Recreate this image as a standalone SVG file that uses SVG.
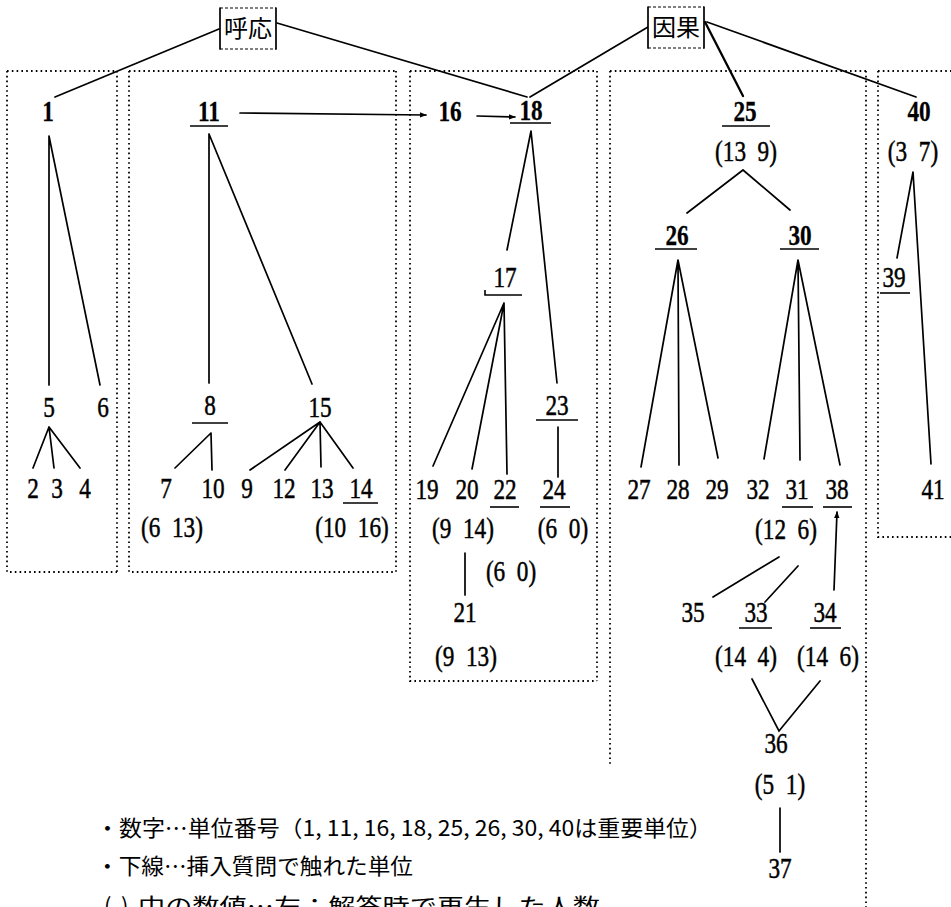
<svg xmlns="http://www.w3.org/2000/svg" width="951" height="907" viewBox="0 0 951 907">
<style>
.n{font-family:"Liberation Serif",serif;font-size:29px;text-anchor:middle;fill:#000;stroke:#000;stroke-width:0.5;transform-box:fill-box;transform-origin:center;transform:scaleX(0.8)}
.b{font-weight:bold;stroke-width:0.3}
.k{font-family:"Noto Sans CJK JP","Noto Sans CJK SC",sans-serif;font-size:24px;text-anchor:middle;fill:#000}
.lg{font-family:"Noto Sans CJK JP","Noto Sans CJK SC",sans-serif;font-size:22px;fill:#000}
.ln{stroke:#000;stroke-width:1.7;fill:none;stroke-linecap:round}
.ul{stroke:#000;stroke-width:1.6;fill:none}
.dot{stroke:#000;stroke-width:1.8;stroke-dasharray:1.6 3.2;fill:none}
.bx{fill:#fff;stroke:none}
.bxd{stroke:#000;stroke-width:1;stroke-dasharray:3 2;fill:none}
</style>
<defs>
<marker id="ah" viewBox="0 0 10 10" refX="9" refY="5" markerWidth="7" markerHeight="7" orient="auto-start-reverse" markerUnits="userSpaceOnUse">
<path d="M0,1 L10,5 L0,9 Z" fill="#000"/>
</marker>
</defs>
<rect width="951" height="907" fill="#fff"/>

<g id="frames">
<path class="dot" d="M7,71 H117 M7,71 V572 H117 M117,71 V572"/>
<path class="dot" d="M129,71 H396 M129,71 V572 H396 M396,71 V572"/>
<path class="dot" d="M410,71 H597 M410,71 V681 H597 M597,71 V681"/>
<path class="dot" d="M610,71 H866 M610,71 V765 M866,71 V907"/>
<path class="dot" d="M878,71 H951 M878,71 V537 H951"/>
</g>

<g id="connectors">
<path class="ln" d="M219,29 L55,97"/>
<path class="ln" d="M277,23 L527,97"/>
<path class="ln" d="M648,27 L530,97"/>
<path class="ln" d="M705,22 L743,96" style="stroke-width:2.3"/>
<path class="ln" d="M707,22 L916,97"/>
<path class="ln" d="M49,136 L49,385 M49,136 L100,385"/>
<path class="ln" d="M49,427 L33,468 M49,427 L54,468 M49,427 L80,468"/>
<path class="ln" d="M209,134 L209,383 M209,134 L312,384"/>
<path class="ln" d="M240,113 L426,115" marker-end="url(#ah)"/>
<path class="ln" d="M477,116 L515,117" marker-end="url(#ah)"/>
<path class="ln" d="M211,433 L175,468 M211,433 L212,470"/>
<path class="ln" d="M320,422 L250,470 M320,422 L285,470 M320,422 L321,467 M320,422 L353,468"/>
<path class="ln" d="M531,131 L507,250 M531,131 L557,383"/>
<path class="ln" d="M504,303 L433,466 M504,303 L472,469 M504,303 L507,474"/>
<path class="ln" d="M558,427 L558,477"/>
<path class="ln" d="M465,553 L465,595"/>
<path class="ln" d="M743,170 L687,213 M743,170 L790,210"/>
<path class="ln" d="M678,260 L641,467 M678,260 L679,465 M678,260 L718,458"/>
<path class="ln" d="M798,260 L764,459 M798,260 L800,460 M798,260 L840,465"/>
<path class="ln" d="M834,590 L837,512" marker-end="url(#ah)"/>
<path class="ln" d="M779,557 L713,597 M798,566 L765,602"/>
<path class="ln" d="M752,679 L779,731 L820,681"/>
<path class="ln" d="M780,808 L780,852"/>
<path class="ln" d="M913,172 L897,258 M913,172 L931,464"/>
</g>

<g id="koou">
<rect class="bx" x="220" y="8" width="56" height="41"/>
<path class="ln" d="M220,8 V49 M276,8 V49"/>
<path class="bxd" d="M220,8 H276 M220,49 H276"/>
<text class="k" x="248" y="37">呼応</text>
</g>
<g id="inga">
<rect class="bx" x="648" y="7" width="56" height="41"/>
<path class="ln" d="M648,7 V48 M704,7 V48"/>
<path class="bxd" d="M648,7 H704 M648,48 H704"/>
<text class="k" x="676" y="36">因果</text>
</g>

<g id="n1"><text class="n b" x="48" y="121">1</text></g>
<g id="n5"><text class="n" x="49" y="417">5</text></g>
<g id="n6"><text class="n" x="103" y="417">6</text></g>
<g id="n2"><text class="n" x="33" y="498">2</text></g>
<g id="n3"><text class="n" x="57" y="498">3</text></g>
<g id="n4"><text class="n" x="85" y="498">4</text></g>

<g id="n11"><text class="n b" x="209" y="121">11</text><path class="ul" d="M190,126 H228"/></g>
<g id="n8"><text class="n" x="210" y="415">8</text><path class="ul" d="M192,423 H228"/></g>
<g id="n15"><text class="n" x="320" y="417">15</text></g>
<g id="n7"><text class="n" x="166" y="498">7</text></g>
<g id="n10"><text class="n" x="213" y="498">10</text></g>
<g id="n9"><text class="n" x="247" y="498">9</text></g>
<g id="n12"><text class="n" x="284" y="498">12</text></g>
<g id="n13"><text class="n" x="322" y="498">13</text></g>
<g id="n14"><text class="n" x="361" y="498">14</text><path class="ul" d="M343,503 H378"/></g>
<g id="p8"><text class="n" x="172" y="537">(6&#160;&#160;13)</text></g>
<g id="p14"><text class="n" x="352" y="537">(10&#160;&#160;16)</text></g>

<g id="n16"><text class="n b" x="450" y="121">16</text></g>
<g id="n18"><text class="n b" x="531" y="120">18</text><path class="ul" d="M510,123 H551"/></g>
<g id="n17"><text class="n" x="505" y="287">17</text><path class="ul" d="M485,290 V295 H522"/></g>
<g id="n23"><text class="n" x="557" y="415">23</text><path class="ul" d="M536,420 H578"/></g>
<g id="n19"><text class="n" x="427" y="499">19</text></g>
<g id="n20"><text class="n" x="467" y="499">20</text></g>
<g id="n22"><text class="n" x="505" y="499">22</text><path class="ul" d="M490,507 H519"/></g>
<g id="n24"><text class="n" x="554" y="499">24</text><path class="ul" d="M540,507 H570"/></g>
<g id="p22"><text class="n" x="463" y="538">(9&#160;&#160;14)</text></g>
<g id="p24"><text class="n" x="563" y="538">(6&#160;&#160;0)</text></g>
<g id="p21a"><text class="n" x="511" y="581">(6&#160;&#160;0)</text></g>
<g id="n21"><text class="n" x="465" y="622">21</text></g>
<g id="p21"><text class="n" x="466" y="666">(9&#160;&#160;13)</text></g>

<g id="n25"><text class="n b" x="745" y="121">25</text><path class="ul" d="M722,126 H770"/></g>
<g id="p25"><text class="n" x="746" y="161">(13&#160;&#160;9)</text></g>
<g id="n26"><text class="n b" x="677" y="245">26</text><path class="ul" d="M655,249 H697"/></g>
<g id="n30"><text class="n b" x="800" y="245">30</text><path class="ul" d="M780,249 H819"/></g>
<g id="n27"><text class="n" x="639" y="499">27</text></g>
<g id="n28"><text class="n" x="678" y="499">28</text></g>
<g id="n29"><text class="n" x="717" y="499">29</text></g>
<g id="n32"><text class="n" x="758" y="499">32</text></g>
<g id="n31"><text class="n" x="797" y="499">31</text><path class="ul" d="M782,507 H813"/></g>
<g id="n38"><text class="n" x="837" y="499">38</text><path class="ul" d="M823,507 H852"/></g>
<g id="p31"><text class="n" x="786" y="539">(12&#160;&#160;6)</text></g>
<g id="n35"><text class="n" x="693" y="622">35</text></g>
<g id="n33"><text class="n" x="756" y="622">33</text><path class="ul" d="M739,628 H772"/></g>
<g id="n34"><text class="n" x="825" y="622">34</text><path class="ul" d="M810,628 H841"/></g>
<g id="p33"><text class="n" x="746" y="666">(14&#160;&#160;4)</text></g>
<g id="p34"><text class="n" x="828" y="666">(14&#160;&#160;6)</text></g>
<g id="n36"><text class="n" x="776" y="753">36</text></g>
<g id="p36"><text class="n" x="780" y="794">(5&#160;&#160;1)</text></g>
<g id="n37"><text class="n" x="780" y="878">37</text></g>

<g id="n40"><text class="n b" x="919" y="121">40</text></g>
<g id="p40"><text class="n" x="913" y="161">(3&#160;&#160;7)</text></g>
<g id="n39"><text class="n" x="894" y="287">39</text><path class="ul" d="M880,293 H910"/></g>
<g id="n41"><text class="n" x="933" y="499">41</text></g>

<g id="legend">
<text class="lg" x="96" y="836" textLength="616" lengthAdjust="spacingAndGlyphs">・数字…単位番号（1, 11, 16, 18, 25, 26, 30, 40は重要単位）</text>
<text class="lg" x="96" y="874" textLength="317" lengthAdjust="spacingAndGlyphs">・下線…挿入質問で触れた単位</text>
<text class="lg" x="104" y="914">(</text>
<text class="lg" x="121" y="914">)</text>
<text class="lg" x="138" y="914" textLength="462" lengthAdjust="spacingAndGlyphs">中の数値…左：解答時で再生した人数</text>
</g>
</svg>
